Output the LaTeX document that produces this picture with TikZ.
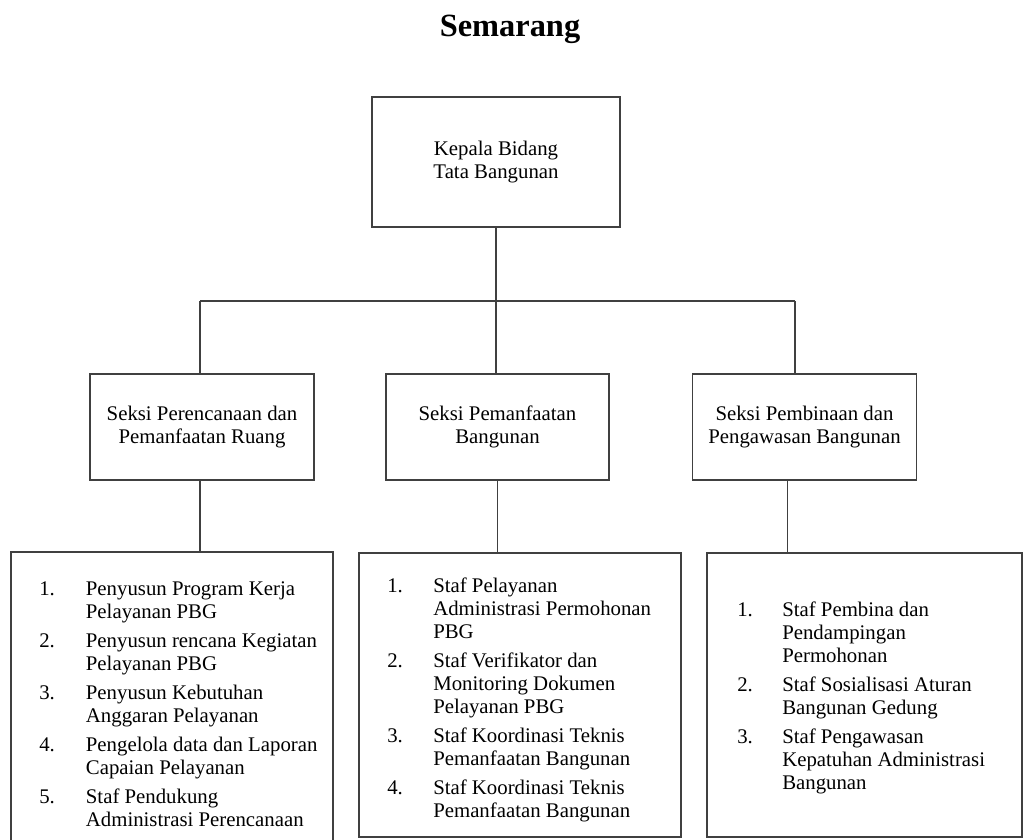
\documentclass[tikz,border=0pt]{standalone}
\usepackage{fontspec}
\setmainfont{Liberation Serif}
\usetikzlibrary{positioning}

\begin{document}
\begin{tikzpicture}[x=0.75pt, y=-0.75pt, every node/.style={font=\fontsize{15.6}{17.25}\selectfont}]
        \tikzset{orgbox/.style={draw=black!75, line width=0.8pt, inner sep=0pt, align=center},
                 joint/.style={draw=black!75, line width=0.8pt},
                 listtext/.style={inner sep=0pt, anchor=base west,
                 font=\fontsize{15.6}{17.25}\selectfont}}
        \useasboundingbox (0,0) rectangle (1023,839);

        \node[anchor=base, font=\fontsize{24.3}{28}\selectfont\bfseries] (judul) at (510,36) {Semarang};

        \node[orgbox, minimum width=186pt, minimum height=97.5pt] (kabid) at (496,162)
             {Kepala Bidang\\Tata Bangunan};

        \node[orgbox, minimum width=168pt, minimum height=79.5pt] (seksiA) at (202,427)
             {Seksi Perencanaan dan\\Pemanfaatan Ruang};
        \node[orgbox, minimum width=167.25pt, minimum height=79.5pt] (seksiB) at (497.5,427)
             {Seksi Pemanfaatan\\Bangunan};
        \node[orgbox, minimum width=168pt, minimum height=79.5pt] (seksiC) at (804.5,427)
             {Seksi Pembinaan dan\\Pengawasan Bangunan};

        \node[orgbox, minimum width=241.5pt, minimum height=222pt] (stafA) at (172,700) {};
        \node[orgbox, minimum width=241.5pt, minimum height=213pt] (stafB) at (520,695) {};
        \node[orgbox, minimum width=236.25pt, minimum height=213pt] (stafC) at (864.5,695) {};

        \node[listtext] (daftarA) at (39,595) {%
          \begin{tabular}[t]{@{}p{35pt}@{}l@{}}
            1. & Penyusun Program Kerja\\
               & Pelayanan PBG\\[4.5pt]
            2. & Penyusun rencana Kegiatan\\
               & Pelayanan PBG\\[4.5pt]
            3. & Penyusun Kebutuhan\\
               & Anggaran Pelayanan\\[4.5pt]
            4. & Pengelola data dan Laporan\\
               & Capaian Pelayanan\\[4.5pt]
            5. & Staf Pendukung\\
               & Administrasi Perencanaan
          \end{tabular}};
        \node[listtext] (daftarB) at (387,592) {%
          \begin{tabular}[t]{@{}p{34.5pt}@{}l@{}}
            1. & Staf Pelayanan\\
               & Administrasi Permohonan\\
               & PBG\\[4.5pt]
            2. & Staf Verifikator dan\\
               & Monitoring Dokumen\\
               & Pelayanan PBG\\[4.5pt]
            3. & Staf Koordinasi Teknis\\
               & Pemanfaatan Bangunan\\[4.5pt]
            4. & Staf Koordinasi Teknis\\
               & Pemanfaatan Bangunan
          \end{tabular}};
        \node[listtext] (daftarC) at (737,616) {%
          \begin{tabular}[t]{@{}p{33.75pt}@{}l@{}}
            1. & Staf Pembina dan\\
               & Pendampingan\\
               & Permohonan\\[4.5pt]
            2. & Staf Sosialisasi Aturan\\
               & Bangunan Gedung\\[4.5pt]
            3. & Staf Pengawasan\\
               & Kepatuhan Administrasi\\
               & Bangunan
          \end{tabular}};

        % garis penghubung
        \coordinate (barL) at (200,301);
        \coordinate (barR) at (795,301);
        \draw[joint] (kabid.south) -- (kabid.south |- seksiB.north);
        \draw[joint] (barL) -- (barR);
        \draw[joint] (barL) -- (barL |- seksiA.north);
        \draw[joint] (barR) -- (barR |- seksiC.north);

        \draw[joint] (barL |- seksiA.south) -- (barL |- stafA.north);
        \draw[joint] (seksiB.south) -- (seksiB.south |- stafB.north);
        \draw[joint] ([xshift=-13pt]seksiC.south) -- ([xshift=-13pt]seksiC.south |- stafC.north);
      \end{tikzpicture}
\end{document}
